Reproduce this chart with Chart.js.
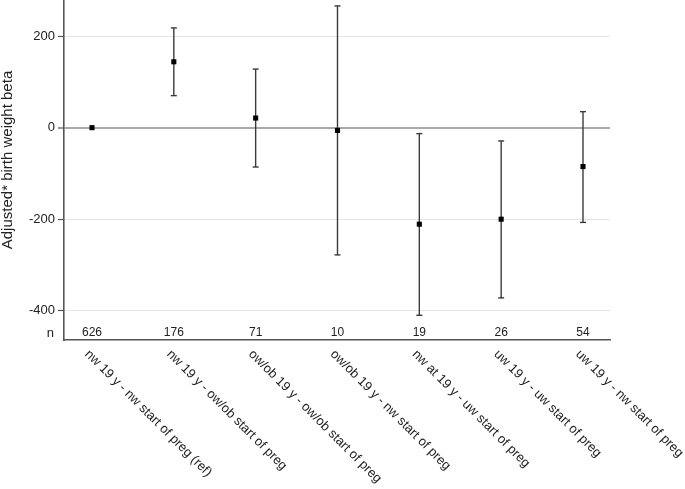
<!DOCTYPE html>
<html><head><meta charset="utf-8">
<script src="https://cdn.jsdelivr.net/npm/chart.js@4.4.1/dist/chart.umd.min.js"></script>
<style>html,body{margin:0;padding:0;background:#fff;} #wrap{width:685px;height:489px;position:relative;}</style>
</head><body><div id="wrap"><canvas id="c"></canvas></div>
<script>
const categories = [
  "nw 19 y - nw start of preg (ref)",
  "nw 19 y - ow/ob start of preg",
  "ow/ob 19 y - ow/ob start of preg",
  "ow/ob 19 y - nw start of preg",
  "nw at 19 y - uw start of preg",
  "uw 19 y - uw start of preg",
  "uw 19 y - nw start of preg"
];
const counts = [626, 176, 71, 10, 19, 26, 54];
const beta = [0, 144, 21, -6, -211, -200, -85];
const ciLow = [null, 70, -86, -278, -410, -372, -207];
const ciHigh = [null, 218, 128, 266, -13, -29, 35];
const yTicks = [-400, -200, 0, 200];
const yTitle = "Adjusted* birth weight beta";
const countLabel = "n";

const FONT = "'Liberation Sans', Arial, sans-serif";
Chart.defaults.font.family = FONT;
Chart.defaults.color = '#222';

const datasets = [];
datasets.push({
  label: 'beta',
  data: beta.map((v, i) => ({x: i, y: v})),
  pointStyle: 'rect',
  pointRadius: 3.6,
  backgroundColor: '#000',
  borderColor: '#000',
  borderWidth: 0,
  showLine: false
});
categories.forEach((c, i) => {
  if (ciLow[i] === null) return;
  datasets.push({
    label: 'ci' + i,
    data: [{x: i, y: ciLow[i]}, {x: i, y: ciHigh[i]}],
    showLine: true,
    borderColor: '#3a3a3a',
    borderWidth: 1.4,
    pointStyle: 'line',
    pointRadius: 3,
    pointBorderWidth: 1.4,
    pointBorderColor: '#3a3a3a',
    backgroundColor: '#3a3a3a'
  });
});

const extras = {
  id: 'extras',
  afterDraw(chart) {
    const ctx = chart.ctx;
    const xs = chart.scales.x;
    const area = chart.chartArea;
    ctx.save();
    ctx.fillStyle = '#222';
    ctx.font = '12px ' + FONT;
    ctx.textAlign = 'center';
    ctx.textBaseline = 'middle';
    counts.forEach((n, i) => ctx.fillText(String(n), xs.getPixelForValue(i), area.bottom - 7));
    ctx.font = '13px ' + FONT;
    ctx.textAlign = 'right';
    ctx.fillText(countLabel, 54, area.bottom - 7);
    ctx.font = '13px ' + FONT;
    ctx.textAlign = 'left';
    ctx.textBaseline = 'top';
    categories.forEach((lab, i) => {
      const px = xs.getPixelForValue(i);
      ctx.save();
      ctx.translate(px - 0.5, area.bottom + 7.5);
      ctx.rotate(Math.PI / 4);
      ctx.fillText(lab, 0, 0);
      ctx.restore();
    });
    ctx.font = '15px ' + FONT;
    ctx.textAlign = 'center';
    ctx.textBaseline = 'middle';
    ctx.translate(8, 160);
    ctx.rotate(-Math.PI / 2);
    ctx.fillText(yTitle, 0, 0);
    ctx.restore();
  }
};

new Chart(document.getElementById('c'), {
  type: 'scatter',
  data: { datasets },
  options: {
    responsive: true,
    maintainAspectRatio: false,
    animation: false,
    events: [],
    layout: { autoPadding: false, padding: { top: 0, right: 75, bottom: 0, left: 0 } },
    plugins: { legend: { display: false }, tooltip: { enabled: false } },
    scales: {
      x: {
        type: 'linear',
        min: -0.342,
        max: 6.33,
        ticks: { display: false },
        grid: { display: false, drawTicks: false },
        border: { display: true, color: '#555', width: 1.6 },
        afterFit(s) { s.height = 149; s.paddingLeft = 0; s.paddingRight = 0; }
      },
      y: {
        type: 'linear',
        min: -464,
        max: 279,
        afterBuildTicks(s) { s.ticks = yTicks.map(v => ({ value: v })); },
        afterFit(s) { s.width = 64; s.paddingTop = 0; s.paddingBottom = 0; },
        ticks: { font: { size: 13 }, color: '#222', padding: 3 },
        grid: {
          color: c => (c.tick && c.tick.value === 0) ? '#a9a9a9' : '#e4e4e4',
          lineWidth: c => (c.tick && c.tick.value === 0) ? 2 : 1,
          tickColor: '#555',
          tickWidth: 1.2,
          tickLength: 6
        },
        border: { display: true, color: '#555', width: 1.6 }
      }
    }
  },
  plugins: [extras]
});
</script>
</body></html>
